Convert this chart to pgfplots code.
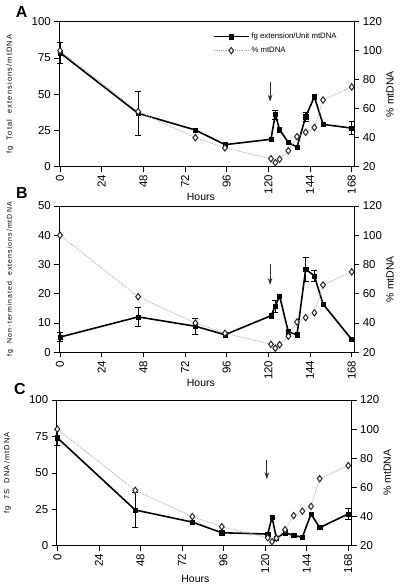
\documentclass[border=0pt]{standalone}
\usepackage{fontspec}
\setmainfont{Liberation Sans}
\usepackage{pgfplots}
\pgfplotsset{compat=1.18}
\usepackage{pgfplotstable}
\usetikzlibrary{arrows.meta}
\newfontfamily\lblfont[LetterSpace=15]{Liberation Sans}

\pgfplotstableread{
h pct
0 100
45 58
78 40
95 33
121.5 25.5
124 22.8
126.5 25.2
131.5 31
136.5 40.7
141.5 43.7
146.5 47
151.5 66
168 75
}\pcttab

\pgfplotstableread{
h v
0 78.6
45 36.8
78 25.3
95 15.2
121.5 18.9
124 36
126.5 25.5
131.5 16.7
136.5 13.5
141.5 34.5
146.5 48.2
151.5 29.2
168 26.6
}\Atab
\pgfplotstableread{
h v e
0 78.6 7
45 36.8 15.5
124 36 3
141.5 34.5 3
168 26.6 4.5
}\Aerr

\pgfplotstableread{
h v
0 5.2
45 12.1
78 8.9
95 6.0
121.5 12.5
124 15.8
126.5 19.2
131.5 7.0
136.5 6.0
141.5 28.4
146.5 26.1
151.5 16.5
168 4.4
}\Btab
\pgfplotstableread{
h v e
0 5.2 1.5
45 12.1 3.3
78 8.9 2.7
124 15.8 2
141.5 28.4 4.2
146.5 26.1 2
}\Berr

\pgfplotstableread{
h v
0 74.1
45 24.5
78 16.2
95 8.9
121.5 8.0
124 19.5
126.5 5.3
131.5 8.9
136.5 7.1
141.5 5.8
146.5 21.8
151.5 12.4
168 21.8
}\Ctab
\pgfplotstableread{
h v e
0 74.1 5.5
45 24.5 12
168 21.8 4
}\Cerr

\tikzset{arr/.style={-{Stealth[length=7bp,width=4.5bp]}, line width=1.1bp, black!85}}

\pgfplotsset{
  base/.style={
    scale only axis, width=295bp, clip=false,
    xmin=-0.4, xmax=169.5, xtick={0,24,...,168},
    tick align=outside, major tick length=5bp,
    tick style={black, line width=0.7bp},
    axis line style={black, line width=0.9bp},
    ticklabel style={font=\fontsize{11.5}{13}\selectfont},
    /pgf/number format/assume math mode=true,
  },
  leftax/.style={base, xtick pos=bottom, ytick pos=left,
    x tick label style={rotate=90, anchor=east},
    xlabel={Hours},
    xlabel style={font=\fontsize{10.5}{12}\selectfont, at={(axis description cs:0.48,-0.212)}, anchor=center},
    ylabel style={font=\lblfont\fontsize{7.5}{9}\selectfont, at={(axis description cs:-0.167,0.5)}, anchor=center},
  },
  rightax/.style={base, axis x line=none, axis y line*=right,
    ymin=20, ymax=120, ytick={20,40,...,120},
    ylabel={\% mtDNA},
    ylabel style={font=\fontsize{10.5}{12}\selectfont, at={(axis description cs:1.121,0.5)}, anchor=center},
  },
  solidser/.style={black, line width=1.6bp, mark=square*, mark size=2.1bp, mark options={solid, fill=black, line width=0.5bp}},
  pctser/.style={gray!70, densely dotted, line width=0.8bp, mark=diamond*, mark size=3.2bp, mark options={solid, fill=white, draw=black!85, line width=1bp}},
  errser/.style={only marks, mark=none, error bars/.cd, y dir=both, y explicit,
    error bar style={black, line width=0.7bp}, error mark options={black, line width=0.7bp, mark size=3bp, rotate=90}},
}

\begin{document}
\begin{tikzpicture}
\useasboundingbox (0,0) rectangle (400bp,-587bp);

% ---------------- Panel A ----------------
\begin{axis}[leftax, at={(59.3bp,-21.7bp)}, anchor=north west, height=145bp,
  ymin=0, ymax=100, ytick={0,25,...,100},
  ylabel={fg\ \ Total\ \ extensions/mtDNA},
  legend style={at={(axis description cs:0.51,0.95)}, anchor=north west, draw=none, fill=none,
    font=\fontsize{7.8}{9}\selectfont, row sep=3bp, legend cell align=left},
  legend image code/.code={\draw[mark repeat=2,mark phase=2,#1] plot coordinates {(0bp,0bp) (17.5bp,0bp) (35bp,0bp)};},
]
\addplot[solidser] table[x=h,y=v] {\Atab};
\addlegendentry{fg extension/Unit mtDNA}
\addlegendimage{pctser}
\addlegendentry{\% mtDNA}
\addplot[errser] table[x=h,y=v,y error=e] {\Aerr};
\draw[arr] (axis cs:121,58.6) -- (axis cs:121,44.8);
\end{axis}
\begin{axis}[rightax, at={(59.3bp,-21.7bp)}, anchor=north west, height=145bp]
\addplot[pctser] table[x=h,y=pct] {\pcttab};
\end{axis}

% ---------------- Panel B ----------------
\begin{axis}[leftax, at={(59.3bp,-206bp)}, anchor=north west, height=146.3bp,
  ymin=0, ymax=50, ytick={0,10,...,50},
  ylabel={fg\ \ Non-terminated\ \ extensions/mtDNA},
  ylabel style={font=\lblfont\fontsize{7}{9}\selectfont},
]
\addplot[solidser] table[x=h,y=v] {\Btab};
\addplot[errser] table[x=h,y=v,y error=e] {\Berr};
\draw[arr] (axis cs:121,30.2) -- (axis cs:121,23.0);
\end{axis}
\begin{axis}[rightax, at={(59.3bp,-206bp)}, anchor=north west, height=146.3bp]
\addplot[pctser] table[x=h,y=pct] {\pcttab};
\end{axis}

% ---------------- Panel C ----------------
\begin{axis}[leftax, at={(56.7bp,-400bp)}, anchor=north west, height=145.7bp,
  xmin=-0.35, xmax=170,
  ymin=0, ymax=100, ytick={0,25,...,100},
  ylabel={fg\ \ 7S\ \ DNA/mtDNA},
  xlabel style={at={(axis description cs:0.47,-0.225)}},
]
\addplot[solidser] table[x=h,y=v] {\Ctab};
\addplot[errser] table[x=h,y=v,y error=e] {\Cerr};
\draw[arr] (axis cs:121,58.8) -- (axis cs:121,45.6);
\end{axis}
\begin{axis}[rightax, at={(56.7bp,-400bp)}, anchor=north west, height=145.7bp,
  xmin=-0.35, xmax=170]
\addplot[pctser] table[x=h,y=pct] {\pcttab};
\end{axis}

% panel letters
\node[font=\fontsize{16}{18}\selectfont\bfseries] at (21.7bp,-12.5bp) {A};
\node[font=\fontsize{16}{18}\selectfont\bfseries] at (22bp,-193bp) {B};
\node[font=\fontsize{16}{18}\selectfont\bfseries] at (20bp,-389bp) {C};
\end{tikzpicture}
\end{document}
